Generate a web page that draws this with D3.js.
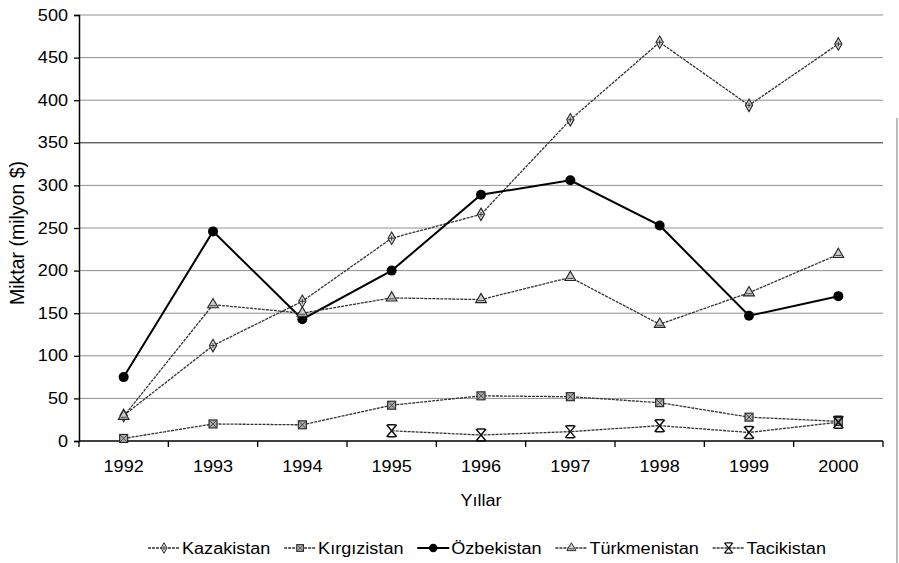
<!DOCTYPE html>
<html><head><meta charset="utf-8">
<script src="https://cdn.jsdelivr.net/npm/d3@7"></script>
<style>
html,body{margin:0;padding:0;background:#fff;}
svg{display:block;font-family:"Liberation Sans",Arial,sans-serif;}
</style></head>
<body><svg id="c" width="899" height="563"></svg>
<script>
const years = ['1992','1993','1994','1995','1996','1997','1998','1999','2000'];
const kazakistan   = [30, 112, 164, 238, 266, 377, 468, 394, 466];
const kirgizistan  = [3, 20, 19, 42, 53, 52, 45, 28, 23];
const ozbekistan   = [75, 246, 143, 200, 289, 306, 253, 147, 170];
const turkmenistan = [29, 160, 150, 168, 166, 192, 137, 174, 219];
const tacikistan   = [null, null, null, 12, 7, 11, 18, 10, 22];
const yTicks = [0, 50, 100, 150, 200, 250, 300, 350, 400, 450, 500];
const seriesNames = ['Kazakistan','Kırgızistan','Özbekistan','Türkmenistan','Tacikistan'];
const seriesData = [kazakistan, kirgizistan, ozbekistan, turkmenistan, tacikistan];
const yTitle = 'Miktar (milyon $)';
const xTitle = 'Yıllar';

const SX = 1.13; // horizontal stretch of text as seen in the reference
const svg = d3.select('#c');
const L = 79, R = 883, T = 15, B = 441;
const x = d3.scaleBand().domain(years).range([L, R]).padding(0);
const cx = d => x(d) + x.bandwidth() / 2;
const y = d3.scaleLinear().domain([0, 500]).range([B, T]);

function stretch(sel) {
  sel.each(function () {
    const t = d3.select(this);
    const x0 = +(t.attr('x') || 0);
    t.attr('x', x0 / SX).attr('transform', `scale(${SX},1)`);
  });
}

// right border artifact
svg.append('line').attr('x1', 897).attr('x2', 897).attr('y1', 118).attr('y2', 563)
  .attr('stroke', '#777').attr('stroke-width', 1);

// gridlines
svg.append('g').selectAll('line').data(yTicks.filter(v => v > 0)).join('line')
  .attr('x1', L).attr('x2', R).attr('y1', d => y(d)).attr('y2', d => y(d))
  .attr('stroke', d => d === 350 ? '#222' : '#8f8f8f').attr('stroke-width', 1);

// y axis
const ya = svg.append('g').attr('transform', `translate(${L},0)`)
  .call(d3.axisLeft(y).tickValues(yTicks).tickSize(5).tickPadding(6));
ya.select('.domain').attr('stroke', '#000').attr('stroke-width', 1.5);
ya.selectAll('.tick line').attr('stroke', '#000').attr('stroke-width', 1.3);
ya.selectAll('.tick text').attr('font-size', 16).attr('fill', '#000')
  .attr('font-family', '"Liberation Sans",Arial,sans-serif').call(stretch);

// x axis
const xa = svg.append('g').attr('transform', `translate(0,${B})`)
  .call(d3.axisBottom(x).tickSize(0).tickPadding(20));
xa.select('.domain').remove();
xa.selectAll('.tick text').attr('font-size', 16).attr('fill', '#000')
  .attr('font-family', '"Liberation Sans",Arial,sans-serif').call(stretch);
svg.append('line').attr('x1', L).attr('x2', R).attr('y1', B).attr('y2', B)
  .attr('stroke', '#000').attr('stroke-width', 1.5);
const bounds = years.map(d => x(d)).concat([R]);
svg.append('g').selectAll('line').data(bounds).join('line')
  .attr('x1', d => d).attr('x2', d => d).attr('y1', B).attr('y2', B + 6)
  .attr('stroke', '#000').attr('stroke-width', 1.3);

// titles
svg.append('text').attr('x', (L + R) / 2).attr('y', 506).attr('text-anchor', 'middle')
  .attr('font-size', 16).text(xTitle).call(stretch);
svg.append('text').attr('transform', `translate(24,${(T + B) / 2 + 5}) rotate(-90)`)
  .attr('text-anchor', 'middle').attr('font-size', 19.5).text(yTitle);

// marker drawing
function marker(g, i) {
  if (i === 0) {
    g.append('path').attr('d', d3.symbol(d3.symbolDiamond, 45)())
      .attr('fill', '#ddd').attr('stroke', '#222').attr('stroke-width', 1.1);
    g.append('path').attr('d', 'M-2.5,0H2.5M0,-2.5V2.5').attr('stroke', '#222').attr('stroke-width', 0.9);
  } else if (i === 1) {
    g.append('rect').attr('x', -4).attr('y', -4).attr('width', 8).attr('height', 8)
      .attr('fill', '#aaa').attr('stroke', '#222').attr('stroke-width', 1.1);
    g.append('path').attr('d', 'M-4,-4L4,4M4,-4L-4,4').attr('stroke', '#333').attr('stroke-width', 0.8);
  } else if (i === 2) {
    g.append('circle').attr('r', 5).attr('fill', '#000');
  } else if (i === 3) {
    g.append('path').attr('d', d3.symbol(d3.symbolTriangle, 50)())
      .attr('fill', '#ccc').attr('stroke', '#222').attr('stroke-width', 1.1);
    g.append('path').attr('d', 'M-3,1H3').attr('stroke', '#222').attr('stroke-width', 0.8);
  } else {
    g.append('path').attr('d', 'M-5,-6L5,6M5,-6L-5,6M-4,-6H4M-4,6H4')
      .attr('fill', 'none').attr('stroke', '#111').attr('stroke-width', 1.5);
  }
}
const lineStyle = i => i === 2
  ? {stroke: '#000', width: 2, dash: null}
  : {stroke: '#333', width: 1.3, dash: '3,1'};

const line = d3.line().defined(d => d.v !== null).x(d => cx(d.year)).y(d => y(d.v));

seriesData.forEach((arr, i) => {
  const pts = years.map((yr, k) => ({year: yr, v: arr[k]}));
  const st = lineStyle(i);
  svg.append('path').datum(pts).attr('d', line).attr('fill', 'none')
    .attr('stroke', st.stroke).attr('stroke-width', st.width)
    .attr('stroke-dasharray', st.dash);
});
seriesData.forEach((arr, i) => {
  const pts = years.map((yr, k) => ({year: yr, v: arr[k]})).filter(d => d.v !== null);
  svg.append('g').selectAll('g').data(pts).join('g')
    .attr('transform', d => `translate(${cx(d.year)},${y(d.v)})`)
    .each(function () { marker(d3.select(this), i); });
});

// legend: spread from x=148 to x=826
const legL = 148, legR = 826, symW = 34;
const lg = svg.append('g').attr('transform', 'translate(0,548)');
const groups = [], widths = [];
seriesNames.forEach((name, i) => {
  const g = lg.append('g');
  const st = lineStyle(i);
  g.append('line').attr('x1', 0).attr('x2', symW - 2).attr('y1', 0).attr('y2', 0)
    .attr('stroke', st.stroke).attr('stroke-width', st.width).attr('stroke-dasharray', st.dash);
  marker(g.append('g').attr('transform', `translate(${(symW - 2) / 2},0) scale(0.85)`), i);
  const t = g.append('text').attr('x', symW).attr('y', 5.5).attr('font-size', 16).text(name);
  const tw = t.node().getComputedTextLength() * SX;
  t.call(stretch);
  groups.push(g); widths.push(symW + tw);
});
const gap = (legR - legL - d3.sum(widths)) / (seriesNames.length - 1);
let pos = legL;
groups.forEach((g, i) => { g.attr('transform', `translate(${pos},0)`); pos += widths[i] + gap; });
</script></body></html>
